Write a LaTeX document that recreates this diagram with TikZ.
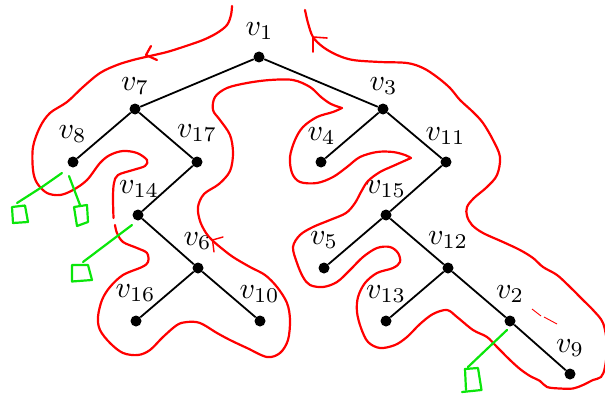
\documentclass[tikz,border=0pt]{standalone}
\usetikzlibrary{calc}
\definecolor{penred}{rgb}{1,0,0}
\definecolor{pengreen}{RGB}{10,230,10}
\tikzset{
  vtx/.style={circle, fill=black, inner sep=0pt, minimum size=11pt},
  lbl/.style={anchor=base, inner sep=0pt, scale=3},
  edge/.style={line width=1.8pt, black},
  tour/.style={penred, line width=2.2pt, line cap=round, line join=round},
  tick/.style={pengreen, line width=2.2pt, line cap=round, line join=round},
}
\begin{document}
\begin{tikzpicture}[x=1pt, y=-1pt]
\useasboundingbox (0,0) rectangle (605,396);

% tree vertices
\node[vtx] (v1)  at (259,57)  {};
\node[vtx] (v7)  at (135,109) {};
\node[vtx] (v3)  at (383,109) {};
\node[vtx] (v8)  at (73,162)  {};
\node[vtx] (v17) at (197,162) {};
\node[vtx] (v4)  at (321,162) {};
\node[vtx] (v11) at (446,162) {};
\node[vtx] (v14) at (138,215) {};
\node[vtx] (v15) at (386,215) {};
\node[vtx] (v6)  at (198,268) {};
\node[vtx] (v5)  at (324,268) {};
\node[vtx] (v12) at (448,268) {};
\node[vtx] (v16) at (136,321) {};
\node[vtx] (v10) at (260,321) {};
\node[vtx] (v13) at (386,321) {};
\node[vtx] (v2)  at (510,321) {};
\node[vtx] (v9)  at (570,374) {};

% tree edges
\draw[edge] (v1) -- (v7);  \draw[edge] (v1) -- (v3);
\draw[edge] (v7) -- (v8);  \draw[edge] (v7) -- (v17);
\draw[edge] (v17) -- (v14); \draw[edge] (v14) -- (v6);
\draw[edge] (v6) -- (v16); \draw[edge] (v6) -- (v10);
\draw[edge] (v3) -- (v4);  \draw[edge] (v3) -- (v11);
\draw[edge] (v11) -- (v15); \draw[edge] (v15) -- (v5);
\draw[edge] (v15) -- (v12); \draw[edge] (v12) -- (v13);
\draw[edge] (v12) -- (v2); \draw[edge] (v2) -- (v9);

% vertex labels
\node[lbl] (l1)  at (259.5,35.5) {$v_1$};
\node[lbl] (l7)  at (135,90)   {$v_7$};
\node[lbl] (l3)  at (383.5,90) {$v_3$};
\node[lbl] (l8)  at (72.5,138) {$v_8$};
\node[lbl] (l17) at (197,137.5) {$v_{17}$};
\node[lbl] (l4)  at (321.5,140) {$v_4$};
\node[lbl] (l11) at (445.5,140) {$v_{11}$};
\node[lbl] (l14) at (139,193) {$v_{14}$};
\node[lbl] (l15) at (386,193) {$v_{15}$};
\node[lbl] (l6)  at (197.5,245) {$v_6$};
\node[lbl] (l5)  at (324,244) {$v_5$};
\node[lbl] (l12) at (448,244) {$v_{12}$};
\node[lbl] (l16) at (135.5,297) {$v_{16}$};
\node[lbl] (l10) at (259.5,298) {$v_{10}$};
\node[lbl] (l13) at (386,298) {$v_{13}$};
\node[lbl] (l2)  at (510,298) {$v_2$};
\node[lbl] (l9)  at (570,352) {$v_9$};

% red tour around the tree
\draw[tour] plot[smooth, tension=0.55] coordinates {
  (232,6) (231,15) (227,25) (217,33) (203,40) (183,47) (167,52) (150,56)
  (133,60) (117,65) (100,73) (83,87) (67,102) (50,113) (40,127) (33,147)
  (33,170) (37,183) (47,193) (60,195) (73,190) (87,180) (100,163) (110,155)
  (123,151) (137,153) (147,160) (145,166) (133,170) (118,175) (114,183)
  (113,197) (113.5,218)};
\draw[tour] plot[smooth, tension=0.55] coordinates {
  (115,225) (117,233) (123,242) (137,248) (147,253) (148,262) (142,267)
  (123,275) (110,287) (102,300) (98,317) (100,330) (110,343) (123,353)
  (138,355) (150,350) (163,337) (177,325) (187,322) (200,323) (217,333)
  (230,340) (247,348) (267,357) (280,353) (288,340) (290,320) (287,303)
  (277,287) (265,275) (250,267) (233,257) (220,247) (212,240) (206,233)
  (200,221) (198,207) (204,194) (219,184) (230,171) (233,153) (230,135)
  (220,120) (213,110) (215,97) (227,88) (247,83) (270,80) (293,80)
  (310,87) (321,97) (331,104) (342,108)};
\draw[tour] plot[smooth, tension=0.55] coordinates {
  (342,108) (333,112) (317,117) (303,127) (295,140) (290,157) (292,173)
  (300,182) (317,183) (333,177) (347,167) (360,157) (377,152) (393,152)
  (405,155) (411,158)};
\draw[tour] plot[smooth, tension=0.55] coordinates {
  (411,158) (393,166) (380,172) (368,181) (361,192) (355,203) (346,213)
  (330,220) (313,227) (300,235) (293,247) (297,263) (303,277) (310,285)
  (323,287) (337,282) (350,270) (363,257) (377,248) (390,247) (398,253)
  (400,262) (393,268) (377,273) (365,283) (358,297) (357,312) (361,328)
  (368,342) (380,348) (395,345) (407,337) (420,324) (433,314) (447,310)
  (457,317) (473,330) (487,337) (497,347) (510,360) (520,369) (530,376)
  (540,381) (547,387) (560,388.5) (573,388.5) (583,385) (593,380) (601,377)
  (605,367) (607,345) (603,323) (593,310) (583,300) (570,287) (557,275)
  (543,267) (533,258) (520,250) (503,242) (483,233) (472,225) (467,216)
  (467,207) (474,198) (487,187) (497,175) (500,157) (493,140) (483,123)
  (473,112) (460,100) (450,88) (437,77) (423,68) (407,63) (380,62)
  (353,60) (337,55) (323,47) (313,37) (308,23) (305,10)};

% direction marks on the tour
\draw[tour] (151,46) -- (146,55) -- (157,60);
\draw[tour, line width=1.4pt] (223,237) -- (212.5,240) -- (214,252);
\draw[tour, line width=1.6pt] (327,38) -- (313,37) -- (313,52);
\draw[penred, line width=0.9pt] (532,309) -- (541,316);
\draw[penred, line width=0.9pt] (544,317) -- (557,324);

% green leaf marks
\draw[tick] (62,173) -- (42,187) -- (17,203);
\draw[tick] (12,207) -- (25,205.5) -- (28,222) -- (13,223) -- cycle;
\draw[tick] (69,176) -- (80,205);
\draw[tick] (74,207) -- (87,205) -- (88,222) -- (77,226) -- (74,207);
\draw[tick] (132,225) -- (83,262);
\draw[tick] (72,265) -- (88,265) -- (92,280) -- (72,281.5) -- cycle;
\draw[tick] (507,330) -- (468,367);
\draw[tick] (465,369) -- (478,368) -- (481.5,390) -- (462,392);
\draw[tick] (465,369) -- (466,390);
\end{tikzpicture}
\end{document}
